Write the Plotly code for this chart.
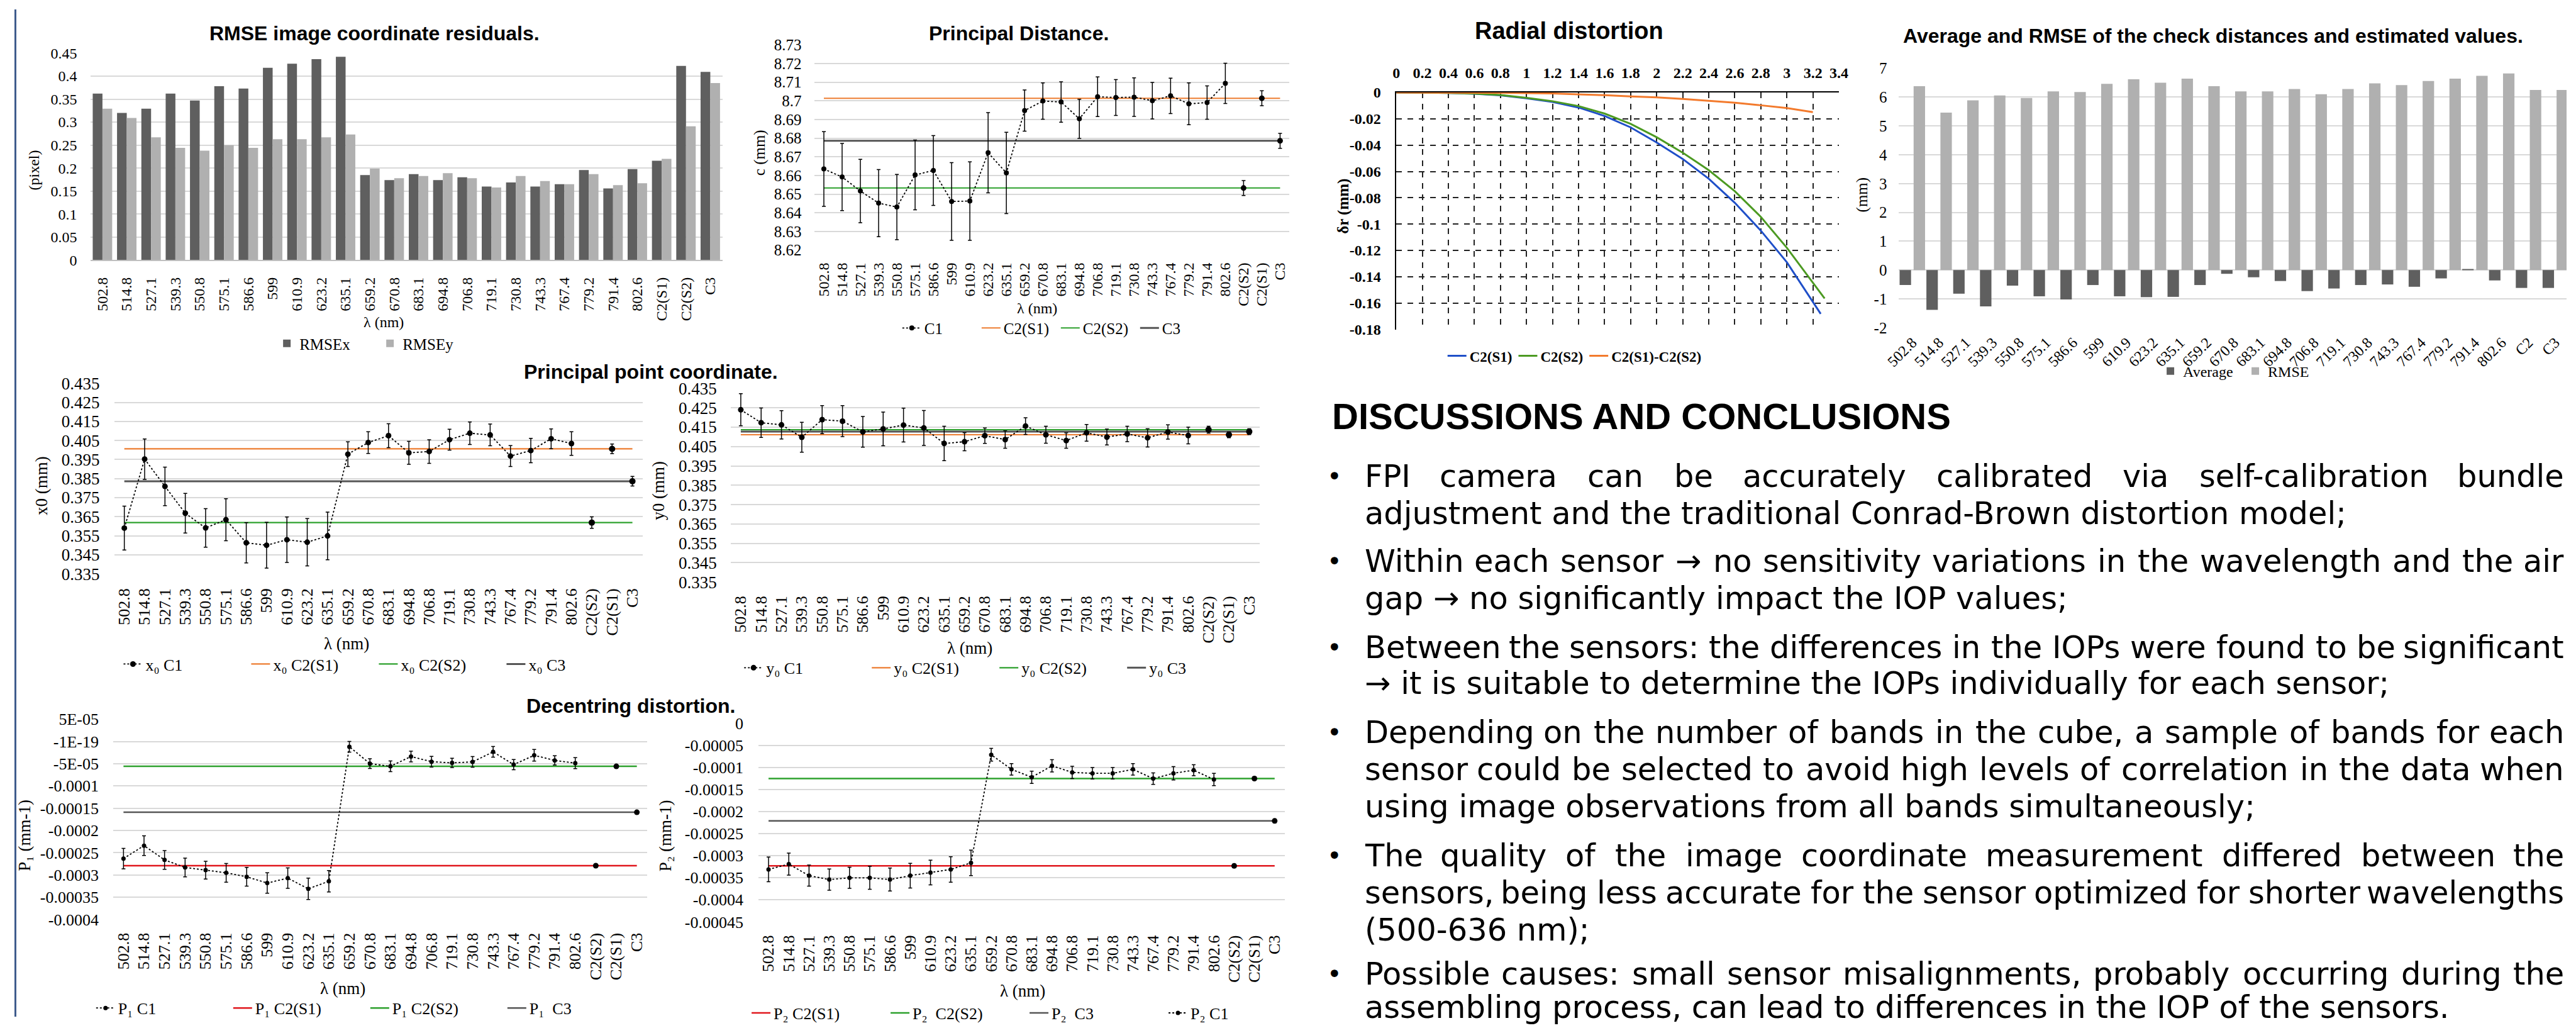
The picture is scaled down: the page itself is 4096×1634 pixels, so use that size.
import plotly.graph_objects as go

# ---------------------------------------------------------------- data
bands = ["502.8", "514.8", "527.1", "539.3", "550.8", "575.1", "586.6", "599",
         "610.9", "623.2", "635.1", "659.2", "670.8", "683.1", "694.8", "706.8",
         "719.1", "730.8", "743.3", "767.4", "779.2", "791.4", "802.6"]
cats_rmse = bands + ["C2(S1)", "C2(S2)", "C3"]
cats_iop = bands + ["C2(S2)", "C2(S1)", "C3"]
cats_check = bands + ["C2", "C3"]

# RMSE image coordinate residuals (pixel)
rmse_x = [0.362, 0.320, 0.329, 0.362, 0.347, 0.378, 0.373, 0.418, 0.427, 0.437, 0.442,
          0.185, 0.174, 0.187, 0.174, 0.180, 0.160, 0.169, 0.160, 0.165, 0.196, 0.156,
          0.198, 0.216, 0.422, 0.409]
rmse_y = [0.329, 0.309, 0.267, 0.244, 0.238, 0.250, 0.244, 0.263, 0.263, 0.267, 0.273,
          0.199, 0.178, 0.183, 0.189, 0.178, 0.158, 0.183, 0.172, 0.165, 0.187, 0.163,
          0.167, 0.220, 0.291, 0.385]

# Principal distance c (mm)
pd_c1 = [8.6635, 8.6592, 8.6517, 8.6452, 8.6431, 8.6603, 8.6627, 8.6461, 8.6463, 8.6722,
         8.6614, 8.6948, 8.6999, 8.6994, 8.6904, 8.7022, 8.7018, 8.7020, 8.7001, 8.7027,
         8.6984, 8.6991, 8.7094]
pd_c1_err = [0.020, 0.018, 0.017, 0.018, 0.0175, 0.0187, 0.0187, 0.0208, 0.021, 0.0215,
             0.0218, 0.011, 0.0097, 0.0108, 0.0105, 0.0106, 0.0096, 0.0103, 0.0098, 0.0095,
             0.0112, 0.0089, 0.0108]
pd_sensor = [8.7014, 8.6533, 8.6786]          # C2(S1), C2(S2), C3
pd_sensor_err = [0.004, 0.004, 0.004]
pd_sensor_cat = ["C2(S1)", "C2(S2)", "C3"]

# Radial distortion (mm)
r_s1 = [0, 0.2, 0.4, 0.6, 0.8, 1.0, 1.2, 1.4, 1.6, 1.8, 2.0, 2.2, 2.4, 2.6, 2.8, 3.0, 3.2, 3.26]
dr_s1 = [0, -0.0001, -0.0003, -0.0009, -0.0021, -0.0044, -0.0072, -0.0114, -0.0178, -0.0265,
         -0.0380, -0.0505, -0.0655, -0.0838, -0.1050, -0.1290, -0.1590, -0.1682]
r_s2 = [0, 0.2, 0.4, 0.6, 0.8, 1.0, 1.2, 1.4, 1.6, 1.8, 2.0, 2.2, 2.4, 2.6, 2.8, 3.0, 3.2, 3.29]
dr_s2 = [0, -0.0001, -0.0003, -0.0008, -0.0019, -0.0040, -0.0066, -0.0103, -0.0160, -0.0238,
         -0.0340, -0.0457, -0.0590, -0.0750, -0.0945, -0.1180, -0.1445, -0.1565]
r_diff = [0, 0.2, 0.4, 0.6, 0.8, 1.0, 1.2, 1.4, 1.6, 1.8, 2.0, 2.2, 2.4, 2.6, 2.8, 3.0, 3.2]
dr_diff = [0, 0, 0, -0.0001, -0.0002, -0.0004, -0.0007, -0.0014, -0.0020, -0.0030, -0.0037,
           -0.0049, -0.0063, -0.0077, -0.0097, -0.0118, -0.0149]

# Check distances (mm)
chk_avg = [-0.52, -1.38, -0.82, -1.26, -0.54, -0.91, -1.02, -0.52, -0.91, -0.94, -0.93, -0.52,
           -0.13, -0.25, -0.38, -0.73, -0.64, -0.52, -0.50, -0.58, -0.29, 0.03, -0.36, -0.62, -0.62]
chk_rmse = [6.38, 5.46, 5.89, 6.06, 5.97, 6.20, 6.18, 6.46, 6.62, 6.50, 6.64, 6.38, 6.20, 6.20,
            6.28, 6.10, 6.28, 6.48, 6.42, 6.56, 6.64, 6.74, 6.82, 6.25, 6.25]

# Principal point x0 (mm)
x0_c1 = [0.3590, 0.3952, 0.3809, 0.3668, 0.3591, 0.3634, 0.3513, 0.3500, 0.3529, 0.3516,
         0.3549, 0.3978, 0.4039, 0.4075, 0.3985, 0.3992, 0.4054, 0.4088, 0.4079, 0.3968,
         0.3997, 0.4059, 0.4034]
x0_c1_err = [0.0115, 0.0106, 0.0101, 0.0104, 0.0101, 0.0110, 0.0106, 0.0120, 0.0119, 0.0124,
             0.0125, 0.0065, 0.0057, 0.0063, 0.0060, 0.0062, 0.0055, 0.0059, 0.0057, 0.0055,
             0.0064, 0.0052, 0.0062]
x0_sensor = [0.4006, 0.3619, 0.3836]
x0_sensor_err = [0.0025, 0.003, 0.0025]
x0_sensor_cat = ["C2(S1)", "C2(S2)", "C3"]

# Principal point y0 (mm)
y0_c1 = [0.4240, 0.4173, 0.4162, 0.4098, 0.4189, 0.4181, 0.4126, 0.4141, 0.4161, 0.4146,
         0.4066, 0.4075, 0.4106, 0.4086, 0.4156, 0.4111, 0.4081, 0.4121, 0.4099, 0.4115,
         0.4095, 0.4125, 0.4107]
y0_c1_err = [0.0083, 0.0076, 0.0073, 0.0077, 0.0072, 0.0080, 0.0079, 0.0087, 0.0087, 0.0090,
             0.0089, 0.0047, 0.0040, 0.0045, 0.0043, 0.0044, 0.0040, 0.0043, 0.0041, 0.0040,
             0.0047, 0.0037, 0.0043]
y0_sensor = [0.4111, 0.4137, 0.4127]
y0_sensor_err = [0.0015, 0.0018, 0.0015]
y0_sensor_cat = ["C2(S1)", "C2(S2)", "C3"]

# Decentring P1 (mm-1)
p1_c1 = [-2.63e-4, -2.34e-4, -2.66e-4, -2.83e-4, -2.89e-4, -2.95e-4, -3.04e-4, -3.18e-4,
         -3.07e-4, -3.31e-4, -3.14e-4, -1.17e-5, -4.97e-5, -5.58e-5, -3.37e-5, -4.53e-5,
         -4.80e-5, -4.58e-5, -2.33e-5, -5.19e-5, -3.10e-5, -4.25e-5, -4.86e-5]
p1_c1_err = [2.3e-5, 2.2e-5, 2.1e-5, 2.1e-5, 2.0e-5, 2.1e-5, 2.1e-5, 2.3e-5, 2.3e-5, 2.4e-5,
             2.4e-5, 1.2e-5, 1.1e-5, 1.2e-5, 1.2e-5, 1.2e-5, 1.05e-5, 1.2e-5, 1.2e-5, 1.15e-5,
             1.3e-5, 1.05e-5, 1.25e-5]
p1_sensor = [-2.79e-4, -5.58e-5, -1.59e-4]
p1_sensor_err = [3e-6, 3e-6, 3e-6]
p1_sensor_cat = ["C2(S2)", "C2(S1)", "C3"]

# Decentring P2 (mm-1)
p2_c1 = [-3.31e-4, -3.19e-4, -3.45e-4, -3.54e-4, -3.50e-4, -3.50e-4, -3.54e-4, -3.45e-4,
         -3.38e-4, -3.31e-4, -3.16e-4, -7.1e-5, -1.04e-4, -1.22e-4, -9.6e-5, -1.11e-4,
         -1.13e-4, -1.13e-4, -1.04e-4, -1.25e-4, -1.13e-4, -1.06e-4, -1.27e-4]
p2_c1_err = [2.8e-5, 2.5e-5, 2.4e-5, 2.4e-5, 2.4e-5, 2.6e-5, 2.6e-5, 2.8e-5, 2.8e-5, 2.9e-5,
             2.9e-5, 1.45e-5, 1.3e-5, 1.4e-5, 1.4e-5, 1.4e-5, 1.3e-5, 1.3e-5, 1.3e-5, 1.3e-5,
             1.5e-5, 1.25e-5, 1.4e-5]
p2_sensor = [-3.23e-4, -1.25e-4, -2.21e-4]
p2_sensor_err = [4e-6, 4e-6, 4e-6]
p2_sensor_cat = ["C2(S2)", "C2(S1)", "C3"]

# tick values / labels
rmse_tv = [0, 0.05, 0.1, 0.15, 0.2, 0.25, 0.3, 0.35, 0.4, 0.45]
rmse_tt = ["0", "0.05", "0.1", "0.15", "0.2", "0.25", "0.3", "0.35", "0.4", "0.45"]
pd_tv = [8.62, 8.63, 8.64, 8.65, 8.66, 8.67, 8.68, 8.69, 8.70, 8.71, 8.72, 8.73]
pd_tt = ["8.62", "8.63", "8.64", "8.65", "8.66", "8.67", "8.68", "8.69", "8.7", "8.71", "8.72", "8.73"]
rad_xtv = [0, 0.2, 0.4, 0.6, 0.8, 1.0, 1.2, 1.4, 1.6, 1.8, 2.0, 2.2, 2.4, 2.6, 2.8, 3.0, 3.2, 3.4]
rad_xtt = ["0", "0.2", "0.4", "0.6", "0.8", "1", "1.2", "1.4", "1.6", "1.8", "2", "2.2", "2.4",
           "2.6", "2.8", "3", "3.2", "3.4"]
rad_ytv = [0, -0.02, -0.04, -0.06, -0.08, -0.1, -0.12, -0.14, -0.16, -0.18]
rad_ytt = ["0", "-0.02", "-0.04", "-0.06", "-0.08", "-0.1", "-0.12", "-0.14", "-0.16", "-0.18"]
chk_tv = [-2, -1, 0, 1, 2, 3, 4, 5, 6, 7]
chk_tt = ["-2", "-1", "0", "1", "2", "3", "4", "5", "6", "7"]
pp_tv = [0.335, 0.345, 0.355, 0.365, 0.375, 0.385, 0.395, 0.405, 0.415, 0.425, 0.435]
pp_tt = ["0.335", "0.345", "0.355", "0.365", "0.375", "0.385", "0.395", "0.405", "0.415", "0.425", "0.435"]
p1_tv = [5e-5, 0, -5e-5, -1e-4, -1.5e-4, -2e-4, -2.5e-4, -3e-4, -3.5e-4, -4e-4]
p1_tt = ["5E-05", "-1E-19", "-5E-05", "-0.0001", "-0.00015", "-0.0002", "-0.00025", "-0.0003",
         "-0.00035", "-0.0004"]
p2_tv = [0, -5e-5, -1e-4, -1.5e-4, -2e-4, -2.5e-4, -3e-4, -3.5e-4, -4e-4, -4.5e-4]
p2_tt = ["0", "-0.00005", "-0.0001", "-0.00015", "-0.0002", "-0.00025", "-0.0003", "-0.00035",
         "-0.0004", "-0.00045"]

disc_heading = "DISCUSSIONS AND CONCLUSIONS"
disc_paragraphs = [
    ["FPI camera can be accurately calibrated via self-calibration bundle",
     "adjustment and the traditional Conrad-Brown distortion model;"],
    ["Within each sensor \u2192 no sensitivity variations in the wavelength and the air",
     "gap \u2192 no significantly impact the IOP values;"],
    ["Between the sensors: the differences in the IOPs were found to be significant",
     "\u2192 it is suitable to determine the IOPs individually for each sensor;"],
    ["Depending on the number of bands in the cube, a sample of bands for each",
     "sensor could be selected to avoid high levels of correlation in the data when",
     "using image observations from all bands simultaneously;"],
    ["The quality of the image coordinate measurement differed between the",
     "sensors, being less accurate for the sensor optimized for shorter wavelengths",
     "(500-636 nm);"],
    ["Possible causes: small sensor misalignments, probably occurring during the",
     "assembling process, can lead to differences in the IOP of the sensors."],
]

# ---------------------------------------------------------------- styling
W, H = 4096, 1634
SERIF = "Liberation Serif, Times New Roman, DejaVu Serif, serif"
SANS = "Liberation Sans, Arial, sans-serif"
BODY = "DejaVu Sans, Verdana, sans-serif"
DARK, LIGHT = "#5f5f5f", "#b0b0b0"
ORANGE, GREEN, GRAY, RED = "#ED7D31", "#2CA02C", "#555555", "#E0161C"
GRID = "#d9d9d9"


def xdom(a, b):
    return [a / W, b / W]


def ydom(top, bot):
    return [1 - bot / H, 1 - top / H]


def cat_x(dom, anchor, size, cats, rng, angle=-90, standoff=14, showline=False):
    return dict(domain=dom, anchor=anchor, type="category", categoryorder="array",
                categoryarray=cats, range=rng, tickangle=angle,
                tickfont=dict(family=SERIF, size=size, color="black"),
                showgrid=False, zeroline=False, showline=showline, linecolor="#bfbfbf",
                linewidth=1.5, ticks="", ticklabelstandoff=standoff, fixedrange=True)


def val_y(dom, anchor, rng, tv, tt, size, standoff=20):
    return dict(domain=dom, anchor=anchor, range=rng, tickvals=tv, ticktext=tt,
                tickfont=dict(family=SERIF, size=size, color="black"),
                showgrid=True, gridcolor=GRID, gridwidth=1.5, zeroline=False,
                showline=False, ticks="", ticklabelstandoff=standoff, fixedrange=True)


def leg(x, y, size, ew, bold=False):
    return dict(orientation="h", x=x / W, y=1 - y / H, xanchor="left", yanchor="middle",
                font=dict(family=SERIF, size=size, color="black",
                          weight="bold" if bold else "normal"),
                bgcolor="rgba(0,0,0,0)", borderwidth=0, entrywidth=ew,
                entrywidthmode="pixels", traceorder="normal", itemwidth=30)


fig = go.Figure()

# ---- panel 1: RMSE bars
fig.add_trace(go.Bar(x=cats_rmse, y=rmse_x, name="RMSEx", marker=dict(color=DARK, line_width=0),
                     width=0.4, offset=-0.4, xaxis="x", yaxis="y", legend="legend"))
fig.add_trace(go.Bar(x=cats_rmse, y=rmse_y, name="RMSEy", marker=dict(color=LIGHT, line_width=0),
                     width=0.4, offset=0.0, xaxis="x", yaxis="y", legend="legend"))

# ---- panel 4: check distances bars
fig.add_trace(go.Bar(x=cats_check, y=chk_avg, name="Average", marker=dict(color=DARK, line_width=0),
                     width=0.427, offset=-0.475, xaxis="x4", yaxis="y4", legend="legend4"))
fig.add_trace(go.Bar(x=cats_check, y=chk_rmse, name="RMSE", marker=dict(color=LIGHT, line_width=0),
                     width=0.427, offset=0.048, xaxis="x4", yaxis="y4", legend="legend4"))

# ---- panel 3: radial distortion
fig.add_trace(go.Scatter(x=r_s1, y=dr_s1, mode="lines", name="C2(S1)",
                         line=dict(color="#1F4FC8", width=3), xaxis="x3", yaxis="y3", legend="legend3"))
fig.add_trace(go.Scatter(x=r_s2, y=dr_s2, mode="lines", name="C2(S2)",
                         line=dict(color="#4C9A22", width=3), xaxis="x3", yaxis="y3", legend="legend3"))
fig.add_trace(go.Scatter(x=r_diff, y=dr_diff, mode="lines", name="C2(S1)-C2(S2)",
                         line=dict(color="#F37A2C", width=3), xaxis="x3", yaxis="y3", legend="legend3"))


def add_iop(xa, ya, legname, c1, c1e, sens, sens_err, sens_cat, names, ranks, colors, widths,
            msize, psize):
    n = len(cats_iop)
    for v, col, w, nm, rk in zip(sens, colors, widths, names[1:], ranks[1:]):
        fig.add_trace(go.Scatter(x=cats_iop, y=[v] * n, mode="lines", name=nm,
                                 line=dict(color=col, width=w), legend=legname, legendrank=rk,
                                 xaxis=xa, yaxis=ya, hoverinfo="skip"))
    fig.add_trace(go.Scatter(x=cats_iop[:len(c1)], y=c1, mode="lines+markers", name=names[0],
                             line=dict(color="black", width=1.8, dash="dot"),
                             marker=dict(color="black", size=msize),
                             error_y=dict(type="data", array=c1e, color="black", thickness=1.5, width=3),
                             legend=legname, legendrank=ranks[0], xaxis=xa, yaxis=ya))
    fig.add_trace(go.Scatter(x=sens_cat, y=sens, mode="markers", showlegend=False,
                             marker=dict(color="black", size=psize),
                             error_y=dict(type="data", array=sens_err, color="black", thickness=1.5, width=3),
                             xaxis=xa, yaxis=ya))


add_iop("x2", "y2", "legend2", pd_c1, pd_c1_err, pd_sensor, pd_sensor_err, pd_sensor_cat,
        ["C1", "C2(S1)", "C2(S2)", "C3"], [1, 2, 3, 4], [ORANGE, GREEN, GRAY], [2, 2, 3], 8, 9)
add_iop("x5", "y5", "legend5", x0_c1, x0_c1_err, x0_sensor, x0_sensor_err, x0_sensor_cat,
        ["x\u2080 C1", "x\u2080 C2(S1)", "x\u2080 C2(S2)", "x\u2080 C3"],
        [1, 2, 3, 4], [ORANGE, GREEN, GRAY], [2.2, 2.2, 3], 9, 10)
add_iop("x6", "y6", "legend6", y0_c1, y0_c1_err, y0_sensor, y0_sensor_err, y0_sensor_cat,
        ["y\u2080 C1", "y\u2080 C2(S1)", "y\u2080 C2(S2)", "y\u2080 C3"],
        [1, 2, 3, 4], [ORANGE, GREEN, GRAY], [2.2, 2.2, 3], 9, 10)
add_iop("x7", "y7", "legend7", p1_c1, p1_c1_err, p1_sensor, p1_sensor_err, p1_sensor_cat,
        ["P\u2081 C1", "P\u2081 C2(S1)", "P\u2081 C2(S2)", "P\u2081  C3"],
        [1, 2, 3, 4], [RED, GREEN, GRAY], [2.5, 2.5, 2.5], 7, 9)
add_iop("x8", "y8", "legend8", p2_c1, p2_c1_err, p2_sensor, p2_sensor_err, p2_sensor_cat,
        ["P\u2082 C1", "P\u2082 C2(S1)", "P\u2082  C2(S2)", "P\u2082  C3"],
        [4, 1, 2, 3], [RED, GREEN, GRAY], [2.5, 2.5, 2.5], 7, 9)

# ---------------------------------------------------------------- annotations
annos = []


def ann(text, x, y, size, family=SERIF, xanchor="center", yanchor="middle", angle=0, bold=False):
    annos.append(dict(text=text, x=x / W, y=1 - y / H, xref="paper", yref="paper",
                      xanchor=xanchor, yanchor=yanchor, showarrow=False, textangle=angle,
                      font=dict(family=family, size=size, color="black",
                                weight="bold" if bold else "normal")))


# chart titles
ann("RMSE image coordinate residuals.", 578, 39, 32, SANS, bold=True)
ann("Principal Distance.", 1612, 39, 32, SANS, bold=True)
ann("Radial distortion", 2495, 35, 38, SANS, bold=True)
ann("Average and RMSE of the check distances and estimated values.", 3529, 43, 32, SANS, bold=True)
ann("Principal point coordinate.", 1021, 588, 32, SANS, bold=True)
ann("Decentring distortion.", 989, 1130, 32, SANS, bold=True)

# axis titles
ann("(pixel)", 31, 261, 24, angle=-90)
ann("\u03bb (nm)", 593, 507, 24)
ann("c (mm)", 1196, 232, 25, angle=-90)
ann("\u03bb (nm)", 1641, 485, 24)
ann("\u03b4r (mm)", 2132, 319, 25, angle=-90, bold=True)
ann("(mm)", 2965, 300, 25, angle=-90)
ann("x0 (mm)", 44, 773, 27, angle=-90)
ann("\u03bb (nm)", 533, 1029, 27)
ann("y0 (mm)", 1034, 780, 27, angle=-90)
ann("\u03bb (nm)", 1533, 1036, 27)
ann("P\u2081 (mm-1)", 16, 1340, 27, angle=-90)
ann("\u03bb (nm)", 527, 1588, 27)
ann("P\u2082 (mm-1)", 1045, 1340, 27, angle=-90)
ann("\u03bb (nm)", 1618, 1592, 27)

# discussion text (justified like the reference)
DVW = {' ': 0.318, 'a': 0.613, 'b': 0.635, 'c': 0.550, 'd': 0.635, 'e': 0.615, 'f': 0.352,
       'g': 0.635, 'h': 0.634, 'i': 0.278, 'j': 0.278, 'k': 0.579, 'l': 0.278, 'm': 0.974,
       'n': 0.634, 'o': 0.612, 'p': 0.635, 'q': 0.635, 'r': 0.411, 's': 0.521, 't': 0.392,
       'u': 0.634, 'v': 0.592, 'w': 0.818, 'x': 0.592, 'y': 0.592, 'z': 0.525, 'A': 0.684,
       'B': 0.686, 'C': 0.698, 'D': 0.770, 'E': 0.632, 'F': 0.575, 'G': 0.775, 'H': 0.752,
       'I': 0.295, 'J': 0.295, 'K': 0.656, 'L': 0.557, 'M': 0.863, 'N': 0.748, 'O': 0.787,
       'P': 0.603, 'Q': 0.787, 'R': 0.695, 'S': 0.635, 'T': 0.611, 'U': 0.732, 'V': 0.684,
       'W': 0.989, 'X': 0.685, 'Y': 0.611, 'Z': 0.685, '.': 0.318, ',': 0.318, ';': 0.337,
       ':': 0.337, '-': 0.361, '(': 0.390, ')': 0.390, '\u2192': 0.838}
for d in "0123456789":
    DVW[d] = 0.636
BODY_SIZE = 49.5
TXT_L, TXT_R = 2165, 4094


def tw(s):
    return sum(DVW.get(ch, 0.6) for ch in s) * BODY_SIZE


def text_line(s, y, justify):
    if not justify:
        ann(s, TXT_L, y, BODY_SIZE, BODY, xanchor="left")
        return
    words = s.split(" ")
    ws = [tw(w) for w in words]
    gap = (TXT_R - TXT_L - sum(ws)) / (len(words) - 1)
    x = TXT_L
    for i, (w, wd) in enumerate(zip(words, ws)):
        if i == 0:
            ann(w, TXT_L, y, BODY_SIZE, BODY, xanchor="left")
        elif i == len(words) - 1:
            ann(w, TXT_R, y, BODY_SIZE, BODY, xanchor="right")
        else:
            ann(w, x + wd / 2, y, BODY_SIZE, BODY, xanchor="center")
        x += wd + gap


ann(disc_heading, 2113, 660, 58, SANS, xanchor="left", bold=True)
line_ys = [[757, 817], [895, 955], [1035, 1093], [1173, 1233, 1293], [1373, 1433, 1493], [1565, 1619]]
for para, ys in zip(disc_paragraphs, line_ys):
    ann("\u2022", 2119, ys[0], 40, BODY)
    for k, (s, y) in enumerate(zip(para, ys)):
        text_line(s, y, k < len(para) - 1)

# ---------------------------------------------------------------- layout
fig.update_layout(
    width=W, height=H, margin=dict(l=0, r=0, t=0, b=0),
    paper_bgcolor="white", plot_bgcolor="white", barmode="overlay",
    showlegend=True, hovermode=False, font=dict(family=SERIF, color="black"),
    annotations=annos,
    shapes=[dict(type="line", xref="paper", yref="paper", x0=1.5 / W, x1=1.5 / W, y0=0, y1=1,
                 line=dict(color="#3e5b8c", width=3))],
    # panel 1
    xaxis=cat_x(xdom(121.7, 1136.3), "y", 24, cats_rmse, [-0.5, 25.5], standoff=16, showline=True),
    yaxis=val_y(ydom(70.8, 406.7), "x", [0, 0.45], rmse_tv, rmse_tt, 24, 20),
    # panel 2
    xaxis2=cat_x(xdom(1284.4, 2045.9), "y2", 24, cats_iop, [-0.5, 25.5], standoff=14),
    yaxis2=val_y(ydom(57.5, 390.5), "x2", [8.62, 8.73], pd_tv, pd_tt, 25, 20),
    # panel 3 radial
    xaxis3=dict(domain=xdom(2217.8, 2928.2), anchor="y3", side="top", range=[0, 3.4],
                tickvals=rad_xtv, ticktext=rad_xtt,
                tickfont=dict(family=SERIF, size=24, color="black", weight="bold"),
                showgrid=True, gridcolor="#222", griddash="dash", gridwidth=1.5,
                zeroline=False, showline=True, linecolor="black", linewidth=1.5, ticks="",
                ticklabelstandoff=12, fixedrange=True),
    yaxis3=dict(domain=ydom(134.8, 519.0), anchor="x3", range=[-0.18, 0],
                tickvals=rad_ytv, ticktext=rad_ytt,
                tickfont=dict(family=SERIF, size=24, color="black", weight="bold"),
                showgrid=True, gridcolor="#222", griddash="dash", gridwidth=1.5,
                zeroline=False, showline=True, linecolor="black", linewidth=1.5, ticks="",
                ticklabelstandoff=18, fixedrange=True),
    # panel 4 check distances
    xaxis4=cat_x(xdom(3024.5, 4096), "y4", 24, cats_check, [-0.5, 24.42], angle=-45, standoff=4),
    yaxis4=val_y(ydom(95.5, 516.3), "x4", [-2, 7], chk_tv, chk_tt, 25, 18),
    # panel 5 x0
    xaxis5=cat_x(xdom(160.0, 1008.1), "y5", 26, cats_iop, [-0.5, 25.5], standoff=17),
    yaxis5=val_y(ydom(606.5, 915.6), "x5", [0.335, 0.435], pp_tv, pp_tt, 27, 22),
    # panel 6 y0
    xaxis6=cat_x(xdom(1149.4, 1998.1), "y6", 26, cats_iop, [-0.5, 25.5], standoff=16),
    yaxis6=val_y(ydom(614.9, 928.9), "x6", [0.335, 0.435], pp_tv, pp_tt, 27, 21),
    # panel 7 P1
    xaxis7=cat_x(xdom(158.5, 1015.4), "y7", 26, cats_iop, [-0.5, 25.5], standoff=15),
    yaxis7=val_y(ydom(1151.5, 1476.4), "x7", [-4e-4, 5e-5], p1_tv, p1_tt, 26, 22),
    # panel 8 P2
    xaxis8=cat_x(xdom(1194.0, 2038.8), "y8", 26, cats_iop, [-0.5, 25.5], standoff=15),
    yaxis8=val_y(ydom(1158.3, 1480.3), "x8", [-4.5e-4, 0], p2_tv, p2_tt, 26, 23),
    # legends
    legend=leg(417, 542, 25, 119),
    legend2=leg(1420, 517, 25, 81),
    legend3=leg(2295, 562, 23, 0, bold=True),
    legend4=leg(3440, 587, 24, 90),
    legend5=leg(170, 1062, 26, 158),
    legend6=leg(1166, 1068, 26, 158),
    legend7=leg(126, 1620, 26, 173),
    legend8=leg(1178, 1628, 26, 176),
)

fig.write_html("out.html", config={"displayModeBar": False},
               post_script="document.body.style.margin='0';document.body.style.overflow='hidden';")
